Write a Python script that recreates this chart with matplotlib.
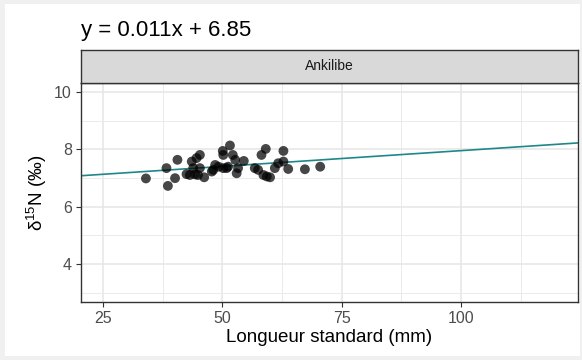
import numpy as np
import matplotlib
matplotlib.use("Agg")
import matplotlib.pyplot as plt
from matplotlib.patches import Rectangle
from matplotlib.ticker import MultipleLocator

plt.rcParams['font.family'] = ['Liberation Sans', 'DejaVu Sans']
plt.rcParams['mathtext.fontset'] = 'custom'
plt.rcParams['mathtext.rm'] = 'Liberation Sans'
plt.rcParams['mathtext.it'] = 'Liberation Sans:italic'

# ---- data: standard length (mm) vs d15N (permil), site Ankilibe ----
site = "Ankilibe"
longueur = [34.0, 38.3, 38.6, 40.1, 40.6, 42.5, 43.2, 43.6, 43.9, 44.3, 44.6,
            44.9, 45.3, 45.3, 46.2, 47.8, 48.1, 48.5, 49.2, 50.1, 50.2, 50.2,
            50.9, 51.2, 51.6, 52.2, 52.7, 53.0, 53.3, 54.5, 56.8, 57.5, 58.2,
            58.6, 59.1, 59.3, 60.0, 61.0, 61.7, 62.8, 62.8, 63.8, 67.3, 70.5]
d15n = [6.98, 7.34, 6.72, 6.99, 7.63, 7.13, 7.10, 7.57, 7.34, 7.12, 7.69,
        7.10, 7.80, 7.34, 7.02, 7.22, 7.28, 7.45, 7.39, 7.94, 7.80, 7.34,
        7.34, 7.39, 8.13, 7.80, 7.63, 7.16, 7.34, 7.59, 7.34, 7.28, 7.80,
        7.10, 8.01, 7.05, 7.02, 7.34, 7.51, 7.94, 7.57, 7.31, 7.30, 7.39]
slope = 0.011
intercept = 6.85
x_ticks = [25, 50, 75, 100]
y_ticks = [4, 6, 8, 10]
x_lim = (20.4, 124.5)
y_lim = (2.67, 10.32)

W, H = 582, 360
fig = plt.figure(figsize=(W / 100, H / 100), dpi=100, facecolor='#f0f0f0')
# white plotting area inside a light grey frame
fig.add_artist(Rectangle((5 / W, 4 / H), 575 / W, 352 / H,
                         transform=fig.transFigure, facecolor='white',
                         edgecolor='none', zorder=-10))

# panel
left, right = 81 / W, 578 / W
bottom, top = 1 - 302 / H, 1 - 82.7 / H
ax = fig.add_axes([left, bottom, right - left, top - bottom])
ax.set_facecolor('white')
ax.set_xlim(*x_lim)
ax.set_ylim(*y_lim)
ax.set_xticks(x_ticks)
ax.set_yticks(y_ticks)
ax.xaxis.set_minor_locator(MultipleLocator(12.5))
ax.yaxis.set_minor_locator(MultipleLocator(1))
ax.grid(which='major', color='#e6e6e6', linewidth=1.1)
ax.grid(which='minor', color='#ebebeb', linewidth=0.7)
ax.set_axisbelow(True)
ax.tick_params(which='minor', length=0)
ax.tick_params(which='major', length=3.5, width=0.8, color='#333333',
               labelsize=11.5, labelcolor='#4d4d4d', pad=3)
for s in ax.spines.values():
    s.set_color('#333333')
    s.set_linewidth(1.0)

xs = np.array(x_lim)
ax.plot(xs, slope * xs + intercept, color='#1f878a', linewidth=1.2, zorder=2)
ax.scatter(longueur, d15n, s=50, color='black', alpha=0.72,
           edgecolors='none', zorder=3)

ax.set_xlabel("Longueur standard (mm)", fontsize=13.5, color='black', labelpad=2)
ax.set_ylabel(r"$\mathregular{\delta^{15}N}$ (‰)", fontsize=13.5,
              color='black', labelpad=4)

# facet strip
strip = fig.add_axes([left, top, right - left, 32.7 / H])
strip.set_facecolor('#d9d9d9')
strip.set_xticks([])
strip.set_yticks([])
for s in strip.spines.values():
    s.set_color('#333333')
    s.set_linewidth(1.0)
strip.text(0.5, 0.5, site, ha='center', va='center', fontsize=10,
           color='#1a1a1a', transform=strip.transAxes)

fig.text(left, 1 - 36 / H, f"y = {slope}x + {intercept}", ha='left',
         va='baseline', fontsize=16, color='black')

fig.savefig("out.png", dpi=100, facecolor=fig.get_facecolor())
